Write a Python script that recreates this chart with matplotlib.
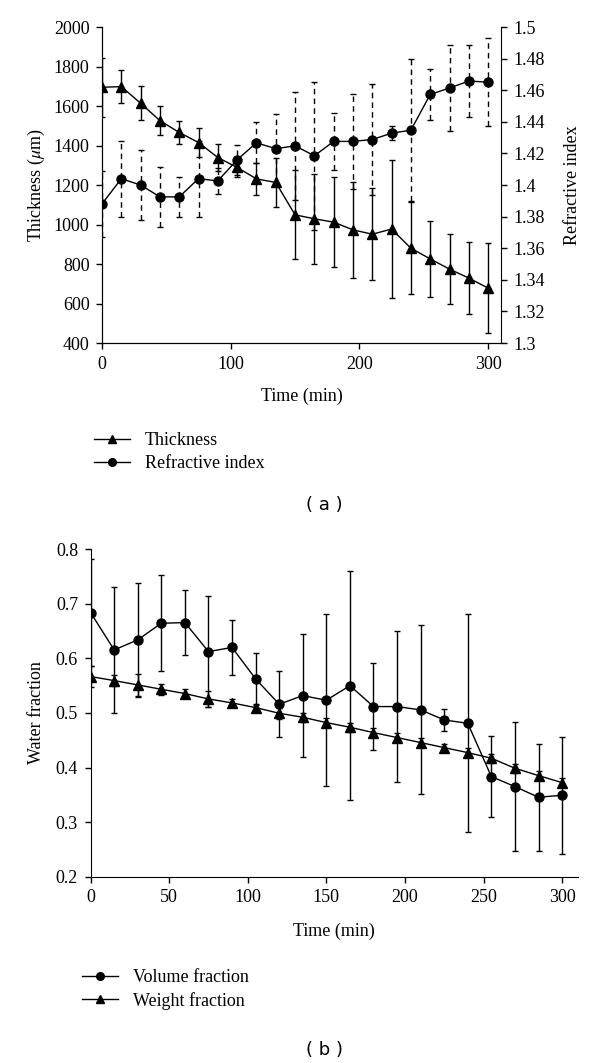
import matplotlib
matplotlib.use("Agg")
import matplotlib.pyplot as plt
from matplotlib.lines import Line2D
import numpy as np

plt.rcParams['font.family'] = ['Liberation Serif', 'DejaVu Serif']
plt.rcParams['mathtext.fontset'] = 'stix'

# ---- Data (a) ----
time_a = [0, 15, 30, 45, 60, 75, 90, 105, 120, 135, 150, 165, 180, 195, 210, 225, 240, 255, 270, 285, 300]
thickness = [1695, 1698, 1614, 1526, 1466, 1415, 1339, 1289, 1231, 1213, 1049, 1029, 1012, 973, 951, 977, 880, 826, 774, 729, 678]
thickness_err = [150, 85, 87, 72, 57, 75, 70, 50, 82, 125, 225, 227, 228, 243, 232, 350, 232, 193, 177, 180, 229]
refr_index = [1.388, 1.404, 1.400, 1.3925, 1.3925, 1.404, 1.4026, 1.416, 1.4267, 1.423, 1.4248, 1.4185, 1.4276, 1.4276, 1.4288, 1.4328, 1.4347, 1.4573, 1.4614, 1.4658, 1.4651]
refr_err = [0.021, 0.024, 0.022, 0.019, 0.0125, 0.024, 0.008, 0.0095, 0.013, 0.022, 0.034, 0.047, 0.018, 0.030, 0.035, 0.0045, 0.045, 0.016, 0.027, 0.0225, 0.028]

# ---- Data (b) ----
time_b = [0, 15, 30, 45, 60, 75, 90, 105, 120, 135, 150, 165, 180, 195, 210, 225, 240, 255, 270, 285, 300]
volume_frac = [0.684, 0.6155, 0.634, 0.6644, 0.6656, 0.6125, 0.620, 0.5624, 0.516, 0.5318, 0.5233, 0.5501, 0.5117, 0.5117, 0.5056, 0.4872, 0.481, 0.3834, 0.365, 0.3455, 0.3492]
volume_err = [0.098, 0.115, 0.105, 0.088, 0.060, 0.102, 0.050, 0.048, 0.060, 0.112, 0.158, 0.210, 0.080, 0.138, 0.155, 0.020, 0.200, 0.074, 0.118, 0.098, 0.107]
weight_frac = [0.5667, 0.5593, 0.5514, 0.5434, 0.5355, 0.5257, 0.5184, 0.5098, 0.4994, 0.4921, 0.4823, 0.4738, 0.464, 0.4549, 0.4457, 0.4365, 0.4273, 0.417, 0.3987, 0.3852, 0.3723]
weight_err = [0.02, 0.01, 0.02, 0.01, 0.008, 0.015, 0.007, 0.006, 0.01, 0.008, 0.008, 0.008, 0.008, 0.008, 0.008, 0.006, 0.008, 0.008, 0.008, 0.008, 0.008]

FS = 13
MS = 6.5
fig = plt.figure(figsize=(6.0, 10.63), dpi=100)

# ---------------- Panel (a) ----------------
ax = fig.add_axes([0.170, 0.6773, 0.665, 0.2973])
ax2 = ax.twinx()
ax.errorbar(time_a, thickness, yerr=thickness_err, color='black', marker='^',
            markersize=MS, linewidth=1.0, elinewidth=1.0, capsize=2, capthick=1.0)
eb2 = ax2.errorbar(time_a, refr_index, yerr=refr_err, color='black', marker='o',
                   markersize=MS, linewidth=1.0, elinewidth=1.0, capsize=2, capthick=1.0)
eb2[2][0].set_linestyle((0, (4, 3)))

ax.set_xlim(0, 310)
ax.set_ylim(400, 2000)
ax2.set_ylim(1.3, 1.5)
ax.set_xticks([0, 100, 200, 300])
ax.set_yticks(np.arange(400, 2001, 200))
rt = np.arange(1.30, 1.501, 0.02)
ax2.set_yticks(rt)
ax2.set_yticklabels(['%g' % round(v, 2) for v in rt])
for a in (ax, ax2):
    a.spines['top'].set_visible(False)
    a.tick_params(direction='out', length=4, width=1, labelsize=FS, pad=5)
ax.spines['right'].set_visible(False)
ax.set_xlabel('Time (min)', fontsize=FS, labelpad=11)
ax.set_ylabel('Thickness ($\\mu$m)', fontsize=FS, labelpad=5)
ax2.set_ylabel('Refractive index', fontsize=FS, labelpad=14)

h_tri = Line2D([], [], color='black', marker='^', markersize=MS - 1, linewidth=1.0)
h_cir = Line2D([], [], color='black', marker='o', markersize=MS - 1, linewidth=1.0)
ax.legend([h_tri, h_cir], ['Thickness', 'Refractive index'], loc='upper left',
          bbox_to_anchor=(0.145, 0.600), bbox_transform=fig.transFigure,
          frameon=False, fontsize=FS, handlelength=2.0, handletextpad=0.8,
          labelspacing=0.3, borderaxespad=0)
fig.text(0.54, 1 - 505 / 1063, '( a )', family='DejaVu Sans', fontsize=13, ha='center', va='center')

# ---------------- Panel (b) ----------------
bx = fig.add_axes([0.151, 0.1753, 0.812, 0.308])
bx.errorbar(time_b, volume_frac, yerr=volume_err, color='black', marker='o',
            markersize=MS, linewidth=1.0, elinewidth=1.0, capsize=2, capthick=1.0)
bx.errorbar(time_b, weight_frac, yerr=weight_err, color='black', marker='^',
            markersize=MS, linewidth=1.0, elinewidth=1.0, capsize=2, capthick=1.0)
bx.set_xlim(0, 310)
bx.set_ylim(0.2, 0.8)
bx.set_xticks(np.arange(0, 301, 50))
bx.set_yticks(np.arange(0.2, 0.801, 0.1))
bx.spines['top'].set_visible(False)
bx.spines['right'].set_visible(False)
bx.tick_params(direction='out', length=4, width=1, labelsize=FS, pad=5)
bx.set_xlabel('Time (min)', fontsize=FS, labelpad=12)
bx.set_ylabel('Water fraction', fontsize=FS, labelpad=8)

bx.legend([h_cir, h_tri], ['Volume fraction', 'Weight fraction'], loc='upper left',
          bbox_to_anchor=(0.125, 0.095), bbox_transform=fig.transFigure,
          frameon=False, fontsize=FS, handlelength=2.0, handletextpad=0.8,
          labelspacing=0.3, borderaxespad=0)
fig.text(0.54, 1 - 1050 / 1063, '( b )', family='DejaVu Sans', fontsize=13, ha='center', va='center')

fig.savefig('out.png', dpi=100)
